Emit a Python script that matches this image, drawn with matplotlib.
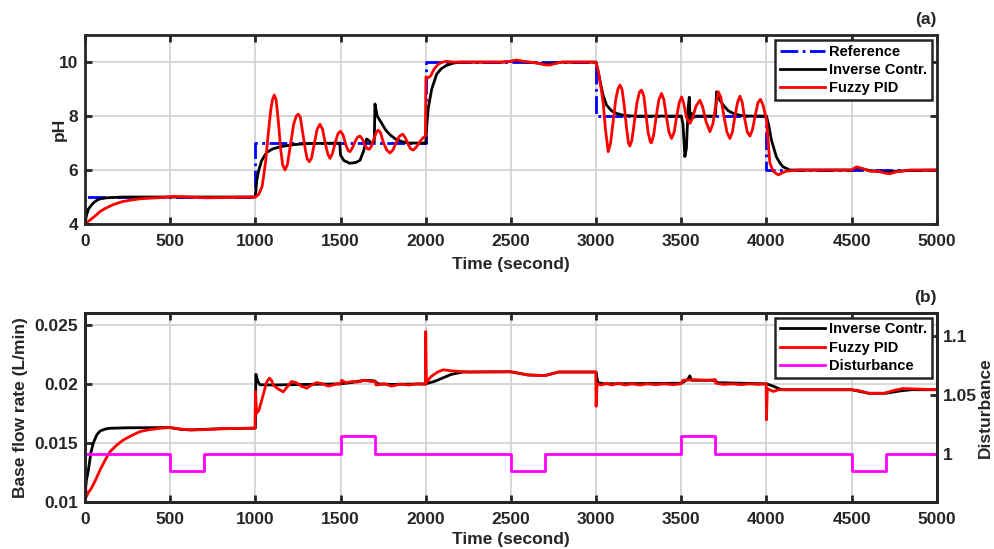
import numpy as np
import matplotlib as mpl
mpl.use('Agg')
import matplotlib.pyplot as plt

# ---- data ----
# (a) pH
ref_t = [0, 0, 1000, 2000, 3000, 4000, 5000]
ref_ph = [4, 5, 7, 10, 8, 6, 6]

inv_t = [0, 8, 20, 35, 49, 70, 88, 127, 225, 1000, 1008, 1020, 1037, 1066, 1100,
         1144, 1222, 1300, 1495, 1500, 1520, 1555, 1590, 1614, 1635, 1653, 1665,
         1680, 1698, 1702, 1715, 1740, 1765, 1795, 1823, 1860, 1902, 2000, 2008,
         2015, 2035, 2064, 2090, 2122, 2160, 2200, 2450, 2500, 2533, 2570, 2650,
         2700, 2760, 2800, 3000, 3010, 3022, 3040, 3061, 3090, 3120, 3160, 3217,
         3500, 3510, 3521, 3530, 3540, 3547, 3552, 3560, 3570, 3590, 3700, 3707,
         3725, 3746, 3775, 3805, 3850, 3900, 4000, 4015, 4029, 4058, 4080, 4097,
         4137, 4500, 4528, 4560, 4606, 4700, 4760, 4850, 5000]
inv_ph = [4.0, 4.3, 4.55, 4.68, 4.78, 4.88, 4.93, 4.97, 5.0, 5.0, 5.6, 6.0, 6.35,
          6.65, 6.78, 6.86, 6.94, 6.98, 7.0, 6.55, 6.35, 6.25, 6.28, 6.36, 6.7,
          7.15, 7.1, 7.0, 7.05, 8.45, 8.0, 7.75, 7.48, 7.28, 7.15, 7.05, 7.0, 7.0,
          7.8, 8.3, 9.0, 9.55, 9.75, 9.88, 9.96, 10.0, 10.0, 10.03, 10.06, 10.02,
          9.97, 9.92, 9.96, 10.0, 10.0, 9.7, 9.33, 8.8, 8.41, 8.2, 8.1, 8.03, 8.0,
          8.0, 7.7, 6.5, 6.8, 8.3, 8.7, 7.8, 8.1, 7.95, 8.0, 8.0, 8.9, 8.6, 8.41,
          8.2, 8.1, 8.02, 8.0, 8.0, 7.6, 7.11, 6.49, 6.25, 6.12, 6.0, 6.0, 6.1,
          6.05, 5.98, 5.92, 5.95, 5.99, 6.0]

fuz_t = [0, 30, 60, 88, 120, 166, 220, 264, 320, 362, 450, 518, 600, 714, 800,
         949, 1000, 1020, 1040, 1060, 1075, 1090, 1100, 1111, 1122, 1135, 1148,
         1160, 1174, 1188, 1205, 1225, 1240, 1252, 1264, 1280, 1295, 1305, 1317,
         1330, 1345, 1362, 1379, 1395, 1410, 1425, 1438, 1452, 1468, 1485, 1500,
         1515, 1530, 1545, 1555, 1568, 1585, 1600, 1614, 1628, 1645, 1660, 1669,
         1682, 1698, 1712, 1722, 1735, 1750, 1770, 1790, 1808, 1825, 1845, 1864,
         1880, 1897, 1912, 1927, 1945, 1965, 1985, 1998, 2001, 2015, 2030, 2050,
         2075, 2100, 2122, 2160, 2450, 2500, 2533, 2570, 2650, 2700, 2729, 2760,
         2800, 2998, 3012, 3030, 3042, 3055, 3071, 3085, 3100, 3115, 3128, 3140,
         3152, 3165, 3178, 3190, 3198, 3210, 3225, 3240, 3255, 3267, 3280, 3292,
         3305, 3318, 3325, 3338, 3352, 3368, 3384, 3398, 3412, 3428, 3443, 3458,
         3472, 3488, 3502, 3515, 3530, 3551, 3568, 3585, 3609, 3625, 3645, 3668,
         3685, 3700, 3717, 3732, 3750, 3768, 3785, 3800, 3815, 3830, 3844, 3858,
         3872, 3888, 3903, 3918, 3935, 3950, 3965, 3980, 4000, 4020, 4040, 4069,
         4095, 4117, 4195, 4500, 4528, 4560, 4606, 4660, 4700, 4724, 4760, 4842,
         5000]
fuz_ph = [4.0, 4.15, 4.3, 4.46, 4.58, 4.72, 4.83, 4.88, 4.93, 4.95, 4.98, 5.02,
          5.0, 4.97, 4.98, 5.0, 5.0, 5.1, 5.4, 6.3, 7.3, 8.2, 8.6, 8.78, 8.6, 7.8,
          6.8, 6.2, 6.0, 6.2, 6.9, 7.7, 8.0, 8.07, 7.95, 7.3, 6.7, 6.4, 6.31, 6.45,
          6.95, 7.5, 7.7, 7.5, 7.0, 6.6, 6.43, 6.6, 7.0, 7.35, 7.44, 7.3, 6.95,
          6.72, 6.68, 6.8, 7.05, 7.22, 7.26, 7.15, 6.9, 6.78, 6.77, 6.9, 7.2, 7.42,
          7.48, 7.38, 7.05, 6.75, 6.63, 6.75, 7.0, 7.25, 7.33, 7.2, 6.95, 6.78,
          6.74, 6.85, 7.05, 7.2, 7.25, 9.45, 9.42, 9.5, 9.75, 9.93, 10.0, 10.03,
          10.0, 10.0, 10.03, 10.08, 10.03, 9.97, 9.9, 9.89, 9.95, 10.0, 10.0, 9.7,
          9.0, 8.47, 7.5, 6.68, 7.0, 7.8, 8.6, 9.0, 9.15, 9.0, 8.4, 7.6, 7.0, 6.89,
          7.1, 7.8, 8.5, 8.9, 8.96, 8.75, 8.1, 7.4, 7.05, 7.01, 7.3, 7.95, 8.6,
          8.84, 8.6, 8.0, 7.4, 7.17, 7.4, 7.95, 8.5, 8.71, 8.45, 7.95, 7.73, 7.95,
          8.35, 8.59, 8.35, 7.8, 7.42, 7.7, 8.3, 8.9, 8.7, 8.0, 7.4, 7.17, 7.4,
          8.0, 8.5, 8.74, 8.5, 7.9, 7.4, 7.26, 7.5, 8.05, 8.5, 8.62, 8.4, 7.85,
          6.25, 5.95, 5.82, 5.9, 5.96, 6.0, 6.0, 6.12, 6.06, 5.96, 5.95, 5.88, 5.86,
          5.93, 6.0, 6.0]

# (b) base flow rate (L/min)
inv_q_t = [0, 8, 20, 35, 49, 70, 88, 120, 147, 245, 500, 560, 620, 700, 800,
           1000, 1003, 1015, 1027, 1100, 1300, 1500, 1560, 1640, 1700, 1720, 1800,
           2000, 2050, 2100, 2150, 2220, 2500, 2600, 2700, 2780, 3000, 3010, 3050,
           3500, 3540, 3550, 3560, 3700, 3710, 4000, 4040, 4080, 4100, 4500, 4550,
           4600, 4700, 4785, 4850, 5000]
inv_q = [0.0105, 0.0118, 0.0127, 0.0142, 0.0150, 0.0157, 0.0160, 0.01618,
         0.01624, 0.01628, 0.0163, 0.01615, 0.0161, 0.01615, 0.0162, 0.01625,
         0.0208, 0.0202, 0.01992, 0.0199, 0.01995, 0.0200, 0.0201, 0.0203,
         0.02025, 0.0200, 0.01995, 0.0200, 0.0202, 0.0205, 0.0208, 0.0210,
         0.02102, 0.02075, 0.0207, 0.0210, 0.0210, 0.0201, 0.0200, 0.02005,
         0.0204, 0.02068, 0.0203, 0.0203, 0.0201, 0.0200, 0.0198, 0.01955,
         0.0195, 0.0195, 0.01935, 0.0192, 0.0192, 0.0194, 0.0195, 0.0195]

fuz_q_t = [0, 8, 20, 39, 60, 88, 120, 147, 185, 225, 270, 323, 380, 440, 499,
           560, 620, 700, 800, 998, 1000, 1008, 1022, 1046, 1065, 1082, 1095,
           1105, 1130, 1164, 1190, 1213, 1240, 1270, 1301, 1330, 1360, 1395, 1428,
           1455, 1477, 1500, 1506, 1530, 1570, 1600, 1640, 1680, 1705, 1708, 1760,
           1800, 1850, 1900, 1950, 1998, 2000, 2004, 2030, 2070, 2103, 2150, 2250,
           2500, 2600, 2700, 2780, 2998, 3000, 3006, 3030, 3060, 3090, 3130, 3170,
           3210, 3260, 3300, 3350, 3400, 3450, 3498, 3510, 3580, 3650, 3700, 3702,
           3750, 3800, 3850, 3900, 3950, 3998, 4000, 4005, 4040, 4070, 4100, 4500,
           4550, 4600, 4690, 4750, 4800, 4900, 5000]
fuz_q = [0.0120, 0.01045, 0.0108, 0.0112, 0.0118, 0.0127, 0.0136, 0.01426,
         0.0148, 0.01525, 0.0156, 0.01596, 0.01613, 0.01624, 0.0163, 0.01618,
         0.0161, 0.01612, 0.0162, 0.01625, 0.01935, 0.0175, 0.0178, 0.01907,
         0.0201, 0.02048, 0.0203, 0.0199, 0.0196, 0.01932, 0.0198, 0.0202, 0.0201,
         0.0198, 0.01963, 0.0199, 0.0201, 0.0200, 0.0198, 0.0199, 0.0200, 0.01998,
         0.0203, 0.0201, 0.0202, 0.02015, 0.0203, 0.0202, 0.0202, 0.0199, 0.0200,
         0.0198, 0.01998, 0.0199, 0.0200, 0.01995, 0.02443, 0.0201, 0.0206,
         0.0210, 0.02119, 0.0211, 0.0210, 0.02102, 0.02075, 0.0207, 0.0210,
         0.0210, 0.0181, 0.0200, 0.0199, 0.02005, 0.0199, 0.02005, 0.0199, 0.0200,
         0.0199, 0.0200, 0.01993, 0.0200, 0.01993, 0.0200, 0.0203, 0.02035,
         0.0203, 0.02035, 0.02005, 0.01995, 0.0200, 0.01993, 0.0200, 0.01995,
         0.0200, 0.01695, 0.0196, 0.01935, 0.0195, 0.0195, 0.0195, 0.0194,
         0.0192, 0.0192, 0.01945, 0.0196, 0.01955, 0.0195]

dist_t = [0, 500, 700, 1500, 1700, 2500, 2700, 3500, 3700, 4500, 4700, 5000]
dist_v = [1, 0.985, 1, 1.015, 1, 0.985, 1, 1.015, 1, 0.985, 1, 1]

# ---- style ----
plt.rc('font', family='Liberation Sans', weight='bold', size=12)
plt.rc('axes', labelweight='bold', linewidth=2.0, edgecolor='#262626')
ftsize = 12.5   # ticks and axis labels
lgsize = 10.5   # legend
dark = '#262626'

plot_width = 9.94
plot_height = 5.49

fig = plt.figure(figsize=(plot_width, plot_height), dpi=100)
ax1 = fig.add_axes([0.0855, 0.592, 0.857, 0.344])
ax2 = fig.add_axes([0.0855, 0.0856, 0.857, 0.3444])


def style_axes(ax):
    ax.grid(True, color='#d4d4d4', linewidth=1.3)
    ax.set_axisbelow(True)
    ax.tick_params(direction='in', length=5, width=2, top=True,
                   labelsize=ftsize, colors=dark)
    ax.tick_params(axis='x', pad=7)
    ax.tick_params(axis='y', pad=5)
    ax.set_xlim(0, 5000)
    ax.set_xticks(np.arange(0, 5001, 500))


def style_legend(leg):
    leg.get_frame().set_linewidth(1.8)
    leg.get_frame().set_edgecolor(dark)


leg_kw = dict(loc='upper right', fontsize=lgsize, fancybox=False,
              framealpha=1, handlelength=3.1, borderaxespad=0.35,
              borderpad=0.3, labelspacing=0.3, handletextpad=0.3)

# (a)
ax1.plot(ref_t, ref_ph, '-.', color='#0000ff', linewidth=2,
         drawstyle='steps-post', label='Reference')
ax1.plot(inv_t, inv_ph, '-', color='k', linewidth=2, label='Inverse Contr.')
ax1.plot(fuz_t, fuz_ph, '-', color='#ff0000', linewidth=2, label='Fuzzy PID')
style_axes(ax1)
ax1.tick_params(right=True)
ax1.set_ylim(4, 11)
ax1.set_yticks([4, 6, 8, 10])
ax1.set_ylabel('pH', fontsize=ftsize, color=dark)
ax1.yaxis.set_label_coords(-0.021, 0.5)
ax1.set_xlabel('Time (second)', fontsize=ftsize, color=dark)
ax1.xaxis.set_label_coords(0.5, -0.175)
ax1.set_title('(a)', loc='right', fontsize=ftsize, fontweight='bold', pad=8,
              color=dark)
style_legend(ax1.legend(**leg_kw))

# (b)
l1, = ax2.plot(inv_q_t, inv_q, '-', color='k', linewidth=2,
               label='Inverse Contr.')
l2, = ax2.plot(fuz_q_t, fuz_q, '-', color='#ff0000', linewidth=2,
               label='Fuzzy PID')
style_axes(ax2)
ax2.set_ylim(0.01, 0.026)
ax2.set_yticks([0.01, 0.015, 0.02, 0.025])
ax2.set_yticklabels(['0.01', '0.015', '0.02', '0.025'])
ax2.set_ylabel('Base flow rate (L/min)', fontsize=ftsize, color=dark)
ax2.yaxis.set_label_coords(-0.067, 0.5)
ax2.set_xlabel('Time (second)', fontsize=ftsize, color=dark)
ax2.xaxis.set_label_coords(0.5, -0.16)
ax2.set_title('(b)', loc='right', fontsize=ftsize, fontweight='bold', pad=8,
              color=dark)

ax3 = ax2.twinx()
l3, = ax3.plot(dist_t, dist_v, '-', color='#ff00ff', linewidth=2,
               drawstyle='steps-post', label='Disturbance')
ax3.set_ylim(0.959, 1.12)
ax3.set_yticks([1, 1.05, 1.1])
ax3.set_yticklabels(['1', '1.05', '1.1'])
ax3.tick_params(direction='in', length=5, width=2, labelsize=ftsize, pad=4,
                colors=dark)
ax3.set_ylabel('Disturbance', fontsize=ftsize, color=dark)
ax3.yaxis.set_label_coords(1.048, 0.5)

style_legend(ax3.legend([l1, l2, l3],
                        ['Inverse Contr.', 'Fuzzy PID', 'Disturbance'],
                        **leg_kw))

plt.savefig('out.png', dpi=100)
